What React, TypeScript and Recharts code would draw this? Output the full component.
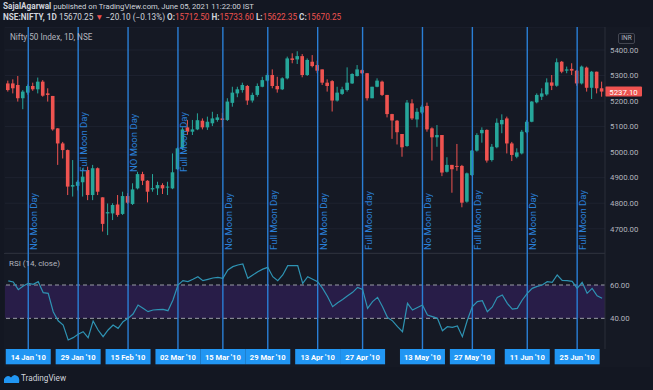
import { Bar, CartesianGrid, ComposedChart, Line, LineChart, ReferenceArea, ReferenceLine, XAxis, YAxis } from "recharts"

// NIFTY daily candles, 08 Jan 2010 .. 02 Jul 2010
const opens = [
  5269, 5269, 5263, 5211, 5233, 5259, 5246, 5276, 5230, 5220,
  5093, 5034, 5008, 4865, 4868, 4882, 4930, 4832, 4937, 4823,
  4760, 4760, 4795, 4758, 4828, 4797, 4858, 4914, 4888, 4854,
  4858, 4871, 4861, 4858, 4933, 5015, 5097, 5080, 5089, 5123,
  5097, 5113, 5126, 5132, 5126, 5193, 5230, 5243, 5259, 5202,
  5224, 5256, 5280, 5302, 5259, 5246, 5289, 5367, 5363, 5376,
  5302, 5354, 5341, 5324, 5272, 5278, 5202, 5228, 5243, 5269,
  5298, 5321, 5309, 5211, 5256, 5276, 5224, 5149, 5123, 5071,
  5024, 5191, 5128, 5155, 5181, 5093, 5058, 5067, 4923, 4950,
  4946, 4946, 4806, 4910, 5006, 5074, 5087, 4969, 5019, 5109,
  5132, 5034, 4982, 4995, 5078, 5119, 5195, 5217, 5226, 5273,
  5260, 5354, 5319, 5326, 5319, 5269, 5331, 5252, 5315, 5250,
]
const highs = [
  5280, 5285, 5298, 5243, 5265, 5272, 5292, 5282, 5250, 5220,
  5094, 5040, 5010, 4969, 4890, 4937, 4943, 4950, 4940, 4823,
  4799, 4800, 4832, 4845, 4839, 4878, 4923, 4923, 4890, 4914,
  4884, 4878, 4884, 4995, 5019, 5097, 5126, 5126, 5152, 5132,
  5139, 5158, 5149, 5154, 5211, 5256, 5256, 5272, 5263, 5233,
  5269, 5295, 5309, 5324, 5295, 5293, 5374, 5387, 5395, 5384,
  5367, 5380, 5358, 5324, 5285, 5282, 5256, 5256, 5332, 5309,
  5341, 5324, 5310, 5256, 5289, 5280, 5224, 5150, 5126, 5071,
  5204, 5207, 5172, 5185, 5194, 5097, 5106, 5067, 4980, 4950,
  5032, 4950, 4920, 5008, 5074, 5097, 5089, 5032, 5132, 5148,
  5139, 5040, 5015, 5087, 5126, 5200, 5230, 5250, 5289, 5302,
  5367, 5357, 5335, 5348, 5322, 5339, 5335, 5318, 5315, 5276,
]
const lows = [
  5237, 5230, 5198, 5168, 5225, 5240, 5230, 5217, 5198, 5084,
  4950, 4975, 4832, 4826, 4850, 4826, 4812, 4812, 4832, 4689,
  4675, 4734, 4747, 4754, 4797, 4793, 4854, 4871, 4803, 4845,
  4832, 4836, 4832, 4855, 4930, 5008, 5067, 5067, 5086, 5089,
  5087, 5102, 5119, 5097, 5122, 5178, 5215, 5233, 5185, 5194,
  5217, 5254, 5276, 5250, 5233, 5243, 5285, 5348, 5345, 5293,
  5298, 5332, 5309, 5263, 5237, 5159, 5198, 5224, 5237, 5267,
  5296, 5305, 5202, 5211, 5254, 5220, 5136, 5052, 5030, 4982,
  5021, 5126, 5097, 5149, 5080, 4967, 5021, 4906, 4920, 4841,
  4927, 4784, 4802, 4907, 5002, 5037, 4959, 4963, 5015, 5074,
  4995, 4965, 4976, 4991, 5074, 5117, 5191, 5204, 5221, 5243,
  5256, 5309, 5309, 5302, 5260, 5265, 5237, 5208, 5230, 5217,
]
const closes = [
  5243, 5250, 5211, 5237, 5259, 5246, 5276, 5221, 5224, 5089,
  5034, 5008, 4865, 4871, 4884, 4904, 4832, 4937, 4845, 4719,
  4765, 4793, 4754, 4828, 4802, 4854, 4914, 4888, 4845, 4859,
  4871, 4858, 4865, 4921, 5015, 5089, 5080, 5089, 5125, 5097,
  5119, 5132, 5136, 5126, 5198, 5233, 5246, 5263, 5202, 5224,
  5259, 5282, 5302, 5259, 5246, 5289, 5367, 5361, 5376, 5302,
  5361, 5337, 5319, 5272, 5259, 5202, 5233, 5246, 5272, 5306,
  5324, 5309, 5211, 5256, 5280, 5224, 5149, 5124, 5078, 5019,
  5194, 5132, 5158, 5178, 5089, 5058, 5067, 4920, 4950, 4933,
  4943, 4802, 4917, 5006, 5067, 5087, 4967, 5021, 5115, 5126,
  5034, 4989, 4999, 5080, 5119, 5198, 5224, 5230, 5273, 5260,
  5352, 5315, 5324, 5319, 5269, 5335, 5252, 5315, 5250, 5237.1,
]

// RSI (14, close), one value per candle
const rsiValues = [
  62.5, 61.8, 57.2, 59.4, 61, 60.4, 62, 55.4, 55, 44,
  38.5, 36, 27, 28.4, 30.4, 32, 28.4, 38.4, 33, 29,
  33, 36, 34, 38, 40, 42.6, 48, 46, 44, 45,
  45.2, 45.4, 44.6, 51, 60, 62.6, 62, 63.4, 65, 62.6,
  63.4, 64.2, 64.6, 64, 69, 71, 72, 72.6, 64, 66,
  68, 69.5, 70.6, 65, 62.6, 66, 71.6, 71.6, 71.6, 61,
  65, 63.5, 62, 58, 53, 47, 49.4, 51.3, 53.5, 55.6,
  58.6, 57.4, 46, 50, 52.6, 47, 40.5, 38.5, 35, 32,
  49, 45, 46.5, 48, 42, 41, 40, 32.6, 35, 34.6,
  35.4, 29, 39, 47, 50, 50.6, 44, 46.8, 52.6, 54,
  49, 45.5, 46, 51, 55, 58, 59.2, 60, 62, 61.6,
  66, 62.8, 62.6, 62.2, 58, 61.6, 55, 58, 53.5, 52,
]

// moon-day markers: candle index, label, date tag
const moonDays = [4, 14, 24, 34, 43, 52, 62, 71, 83, 93, 104, 114]
const moonLabels = [
  "No Moon Day", "Full Moon Day", "NO Moon Day", "Full Moon Day", "No Moon Day", "Full Moon Day",
  "No Moon Day", "Full Moon day", "No Moon Day", "Full Moon Day", "No Moon Day", "Full Moon Day",
]
const moonDates = [
  "14 Jan '10", "29 Jan '10", "15 Feb '10", "02 Mar '10", "15 Mar '10", "29 Mar '10",
  "13 Apr '10", "27 Apr '10", "13 May '10", "27 May '10", "11 Jun '10", "25 Jun '10",
]

const priceTicks = [4700, 4800, 4900, 5000, 5100, 5200, 5300, 5400]
const rsiTicks = [40, 60]

const GREEN = "#26a69a"
const RED = "#ef5350"
const MOON = "#2a7fd6"
const PANE = "#151924"
const LINE = "#2a2e39"
const TEXT = "#b2b5be"
const FONT = "Roboto, 'Liberation Sans', sans-serif"
const X_DOMAIN = [-0.66, 119.58]
const RAISED = [14, 24, 34]

const candles = opens.map((open, i) => ({
  i,
  open,
  high: highs[i],
  low: lows[i],
  close: closes[i],
  range: [lows[i], highs[i]],
}))
const rsiData = rsiValues.map((rsi, i) => ({ i, rsi }))
const lastClose = closes[closes.length - 1]

function Candle(props: any) {
  const { x, y, width, height, payload } = props
  const { open, close, high, low } = payload
  const top = Math.min(y, y + height)
  const h = Math.abs(height)
  const py = (p: number) => top + ((high - p) / (high - low || 1)) * h
  const color = close >= open ? GREEN : RED
  const cx = x + width / 2
  const bt = py(Math.max(open, close))
  const bb = py(Math.min(open, close))
  return (
    <g>
      <line x1={cx} x2={cx} y1={top} y2={top + h} stroke={color} strokeWidth={1} />
      <rect x={cx - 1.8} y={bt} width={3.6} height={Math.max(bb - bt, 1)} fill={color} />
    </g>
  )
}

function MoonLabel(props: any) {
  const { viewBox, text, raised } = props
  const x = viewBox.x + 9
  const y = raised ? viewBox.y + 145 : viewBox.y + viewBox.height - 3
  return (
    <text x={x} y={y} transform={`rotate(-90 ${x} ${y})`} fill={MOON} fontSize={9.5} fontFamily={FONT}>
      {text}
    </text>
  )
}

function PriceTag(props: any) {
  const { viewBox, value } = props
  const x = viewBox.x + viewBox.width
  return (
    <g>
      <rect x={x} y={viewBox.y - 5} width={37} height={10} fill={RED} rx={1} />
      <text x={x + 18.5} y={viewBox.y + 3} textAnchor="middle" fill="#fff" fontSize={7.8} fontFamily={FONT}>
        {value.toFixed(2)}
      </text>
    </g>
  )
}

function DateTick(props: any) {
  const { x, y, payload } = props
  const k = moonDays.indexOf(payload.value)
  return (
    <g>
      <rect x={x - 22.5} y={y} width={45} height={15.3} fill="#2196f3" />
      <text x={x} y={y + 10.5} textAnchor="middle" fill="#fff" fontSize={7.6} fontWeight={700} fontFamily={FONT}>
        {moonDates[k]}
      </text>
    </g>
  )
}

export default function App() {
  return (
    <div style={{ position: "fixed", left: 0, top: 0, width: 653, height: 390, background: "#131722", fontFamily: FONT, overflow: "hidden" }}>
      <div style={{ position: "absolute", left: 3, top: 1, fontSize: 7.7, color: "#d1d4dc", whiteSpace: "nowrap" }}>
        <b style={{ fontSize: 8.2 }}>SajalAgarwal</b> published on TradingView.com, June 05, 2021 11:22:00 IST
      </div>
      <div style={{ position: "absolute", left: 3, top: 12, fontSize: 8.2, color: "#d1d4dc", whiteSpace: "nowrap" }}>
        <b>NSE:NIFTY, 1D</b> 15670.25 <span style={{ color: RED }}>▼</span> −20.10 (−0.13%) <b>O:</b>
        <span style={{ color: RED }}>15712.50</span> <b>H:</b><span style={{ color: RED }}>15733.60</span> <b>L:</b>
        <span style={{ color: RED }}>15622.35</span> <b>C:</b><span style={{ color: RED }}>15670.25</span>
      </div>

      <div style={{ position: "absolute", left: 4, top: 27, width: 646, height: 340, background: PANE }} />

      <div style={{ position: "absolute", left: 0, top: 27 }}>
        <ComposedChart width={653} height={226} data={candles} margin={{ top: 0, right: 0, bottom: 0, left: 5 }}>
          <CartesianGrid vertical={false} stroke="#1e2230" />
          <XAxis dataKey="i" type="number" domain={X_DOMAIN} allowDataOverflow hide />
          <YAxis
            orientation="right"
            width={48}
            domain={[4605, 5490]}
            ticks={priceTicks}
            allowDataOverflow
            tickFormatter={(v) => v.toFixed(2)}
            tick={{ fill: TEXT, fontSize: 7.8, fontFamily: FONT }}
            tickLine={false}
            tickSize={0}
            tickMargin={5}
            axisLine={{ stroke: LINE }}
          />
          {moonDays.map((d, k) => (
            <ReferenceLine
              key={d}
              x={d}
              stroke={MOON}
              strokeWidth={1.4}
              label={<MoonLabel text={moonLabels[k]} raised={RAISED.includes(d)} />}
            />
          ))}
          <Bar dataKey="range" barSize={4} shape={Candle} isAnimationActive={false} />
          <ReferenceLine y={lastClose} stroke="transparent" label={<PriceTag value={lastClose} />} />
        </ComposedChart>
      </div>

      <div style={{ position: "absolute", left: 4, top: 253, width: 601, height: 1, background: LINE }} />

      <div style={{ position: "absolute", left: 0, top: 253 }}>
        <LineChart width={653} height={113} data={rsiData} margin={{ top: 0, right: 0, bottom: 0, left: 5 }}>
          <XAxis
            dataKey="i"
            type="number"
            domain={X_DOMAIN}
            allowDataOverflow
            ticks={moonDays}
            interval={0}
            height={17}
            tick={<DateTick />}
            tickLine={false}
            tickSize={0}
            tickMargin={0}
            axisLine={false}
          />
          <YAxis
            orientation="right"
            width={48}
            domain={[21.6, 79.2]}
            ticks={rsiTicks}
            allowDataOverflow
            tickFormatter={(v) => v.toFixed(2)}
            tick={{ fill: TEXT, fontSize: 7.8, fontFamily: FONT }}
            tickLine={false}
            tickSize={0}
            tickMargin={5}
            axisLine={{ stroke: LINE }}
          />
          <ReferenceArea y1={40} y2={60} fill="#2a1e4c" fillOpacity={0.9} stroke="none" />
          <ReferenceLine y={60} stroke="#9a9da6" strokeDasharray="4 3" />
          <ReferenceLine y={40} stroke="#9a9da6" strokeDasharray="4 3" />
          {moonDays.map((d) => (
            <ReferenceLine key={d} x={d} stroke={MOON} strokeWidth={1.4} />
          ))}
          <Line type="linear" dataKey="rsi" stroke="#2e93b3" strokeWidth={1.2} dot={false} isAnimationActive={false} />
        </LineChart>
      </div>

      <div style={{ position: "absolute", left: 10, top: 32, fontSize: 8.2, color: TEXT, whiteSpace: "nowrap" }}>Nifty 50 Index, 1D, NSE</div>
      <div style={{ position: "absolute", left: 9, top: 259, fontSize: 8, color: TEXT, whiteSpace: "nowrap" }}>RSI (14, close)</div>
      <div
        style={{
          position: "absolute",
          left: 618,
          top: 33,
          width: 15,
          height: 9,
          border: "1px solid #434651",
          borderRadius: 2,
          fontSize: 6.5,
          lineHeight: "9px",
          textAlign: "center",
          color: TEXT,
        }}
      >
        INR
      </div>

      <svg style={{ position: "absolute", left: 4, top: 373 }} width={16} height={11}>
        <path d="M0 10 L0 6 Q3 1 7 4.5 Q10 0 14 3.5 Q16 6 15 10 Z" fill="#2196f3" />
      </svg>
      <div style={{ position: "absolute", left: 21, top: 373, fontSize: 8.2, color: "#d1d4dc", whiteSpace: "nowrap" }}>TradingView</div>
    </div>
  )
}
